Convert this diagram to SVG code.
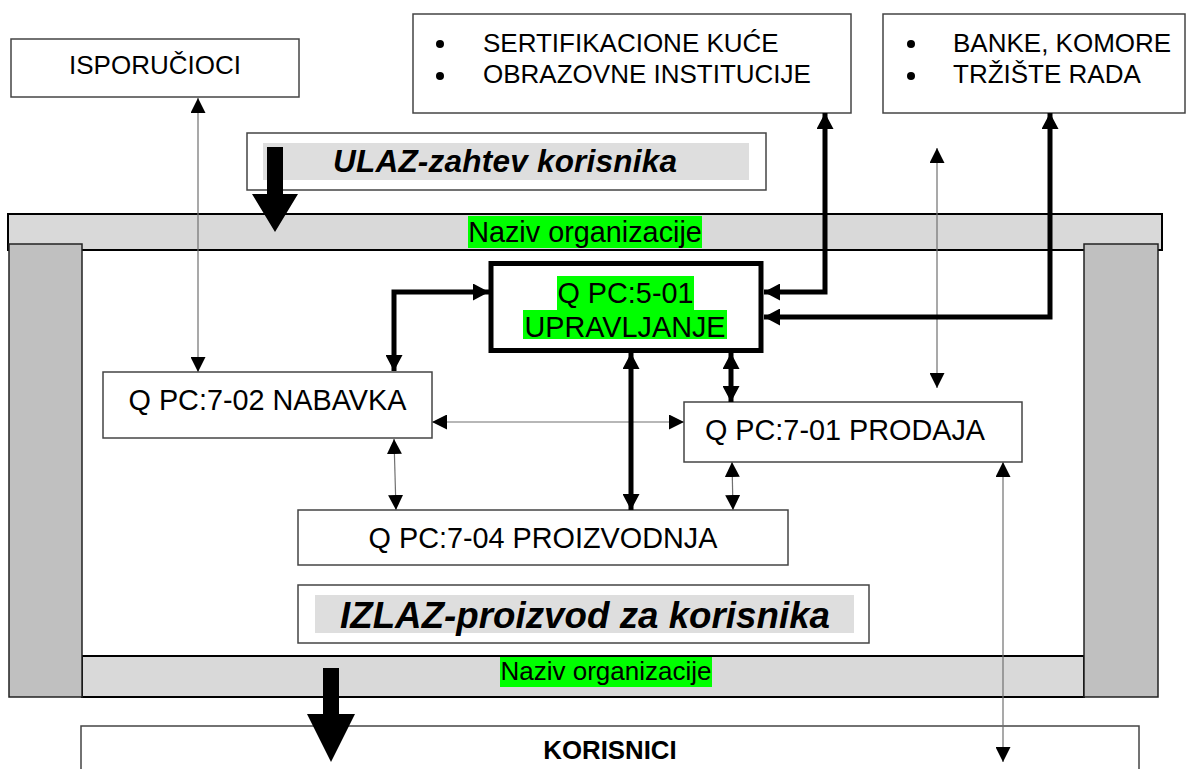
<svg xmlns="http://www.w3.org/2000/svg" width="1186" height="769" viewBox="0 0 1186 769">
<style>
  text { font-family: "Liberation Sans", Arial, sans-serif; fill: #000; }
  .box { fill: #fff; stroke: #444; stroke-width: 1.5; }
  .band { fill: #d9d9d9; stroke: #000; stroke-width: 2; }
  .pillar { fill: #c0c0c0; stroke: #222; stroke-width: 1.5; }
  .hl { fill: #dedede; }
  .green { fill: #00ff00; }
  .t26 { font-size: 26px; }
  .t29 { font-size: 28.8px; }
  .thin { fill: none; stroke: #707070; stroke-width: 1.2; marker-start: url(#ah); marker-end: url(#ah); }
  .thick { fill: none; stroke: #000; stroke-width: 5; marker-start: url(#ahb); marker-end: url(#ahb); }
  .big { fill: #000; }
</style>
<defs>
  <marker id="ah" viewBox="0 0 15 15" refX="15" refY="7.5" markerWidth="15" markerHeight="15" markerUnits="userSpaceOnUse" orient="auto-start-reverse">
    <path d="M0,0 L15,7.5 L0,15 z" fill="#000"/>
  </marker>
  <marker id="ahb" viewBox="0 0 16 17" refX="16" refY="8.5" markerWidth="16" markerHeight="17" markerUnits="userSpaceOnUse" orient="auto-start-reverse">
    <path d="M0,0 L16,8.5 L0,17 z" fill="#000"/>
  </marker>
</defs>

<!-- organisation frame -->
<g id="frame">
  <rect class="band" x="8" y="214" width="1154" height="36"/>
  <rect class="band" x="82" y="656" width="1002" height="41"/>
  <rect class="pillar" x="9" y="244" width="73" height="453"/>
  <rect class="pillar" x="1084" y="244" width="74" height="453"/>
  <rect class="green" x="468" y="216" width="234" height="32"/>
  <text class="t29" x="585" y="242" text-anchor="middle">Naziv organizacije</text>
  <rect class="green" x="500" y="657" width="212" height="30"/>
  <text x="606" y="680" text-anchor="middle" font-size="26">Naziv organizacije</text>
</g>

<g id="isporucioci">
  <rect class="box" x="11" y="39" width="288" height="58"/>
  <text class="t26" x="155" y="74" text-anchor="middle">ISPORUČIOCI</text>
</g>

<g id="sertifikacione">
  <rect class="box" x="413" y="14" width="438" height="99"/>
  <circle cx="440" cy="44" r="4"/>
  <circle cx="440" cy="76" r="4"/>
  <text class="t26" x="483" y="52">SERTIFIKACIONE KUĆE</text>
  <text class="t26" x="483" y="83">OBRAZOVNE INSTITUCIJE</text>
</g>

<g id="banke">
  <rect class="box" x="883" y="14" width="302" height="99"/>
  <circle cx="911" cy="44" r="4"/>
  <circle cx="911" cy="76" r="4"/>
  <text class="t26" x="953" y="52">BANKE, KOMORE</text>
  <text class="t26" x="953" y="83">TRŽIŠTE RADA</text>
</g>

<g id="ulaz">
  <rect class="box" x="247" y="133" width="519" height="57"/>
  <rect class="hl" x="263" y="143" width="486" height="37"/>
  <text x="333" y="172" font-size="31.5" font-weight="bold" font-style="italic" textLength="344">ULAZ-zahtev korisnika</text>
</g>

<g id="upravljanje">
  <rect x="491" y="263.5" width="270" height="87" fill="#fff" stroke="#000" stroke-width="5"/>
  <rect class="green" x="557" y="276" width="137" height="34"/>
  <rect class="green" x="523" y="310" width="204" height="29"/>
  <text class="t29" x="625.5" y="303" text-anchor="middle">Q PC:5-01</text>
  <text class="t29" x="625" y="337" text-anchor="middle">UPRAVLJANJE</text>
</g>

<g id="nabavka">
  <rect class="box" x="103" y="372" width="329" height="66"/>
  <text class="t29" x="267.5" y="410" text-anchor="middle">Q PC:7-02 NABAVKA</text>
</g>

<g id="prodaja">
  <rect class="box" x="684" y="402" width="338" height="60"/>
  <text class="t29" x="845" y="440" text-anchor="middle">Q PC:7-01 PRODAJA</text>
</g>

<g id="proizvodnja">
  <rect class="box" x="298" y="510" width="490" height="55"/>
  <text class="t29" x="543" y="548" text-anchor="middle">Q PC:7-04 PROIZVODNJA</text>
</g>

<g id="izlaz">
  <rect class="box" x="298" y="585" width="571" height="58"/>
  <rect class="hl" x="315" y="595" width="539" height="38"/>
  <text x="340" y="628" font-size="36.7" font-weight="bold" font-style="italic" textLength="490">IZLAZ-proizvod za korisnika</text>
</g>

<g id="korisnici">
  <rect class="box" x="81" y="726" width="1058" height="60"/>
  <text x="610" y="759" font-size="25.8" font-weight="bold" text-anchor="middle">KORISNICI</text>
</g>

<g id="connectors">
  <path class="thin" d="M198,98 V372"/>
  <path class="thin" d="M937,148 V388"/>
  <path class="thin" d="M432,422 H684"/>
  <path class="thin" d="M394,439 L396,510"/>
  <path class="thin" d="M732,462 L733,510"/>
  <path class="thin" d="M1003,462 V762"/>
  <path class="thick" d="M489,292 H394 V371"/>
  <path class="thick" d="M825,113 V292 H764"/>
  <path class="thick" d="M1050,113 V317 H764"/>
  <path class="thick" d="M631,353 V510"/>
  <path class="thick" d="M731,353 V402"/>
  <polygon class="big" points="267,147 283,147 283,194 298,194 275,232 252,194 267,194"/>
  <polygon class="big" points="323,668 339,668 339,714 355,714 331,762 307,714 323,714"/>
</g>
</svg>
